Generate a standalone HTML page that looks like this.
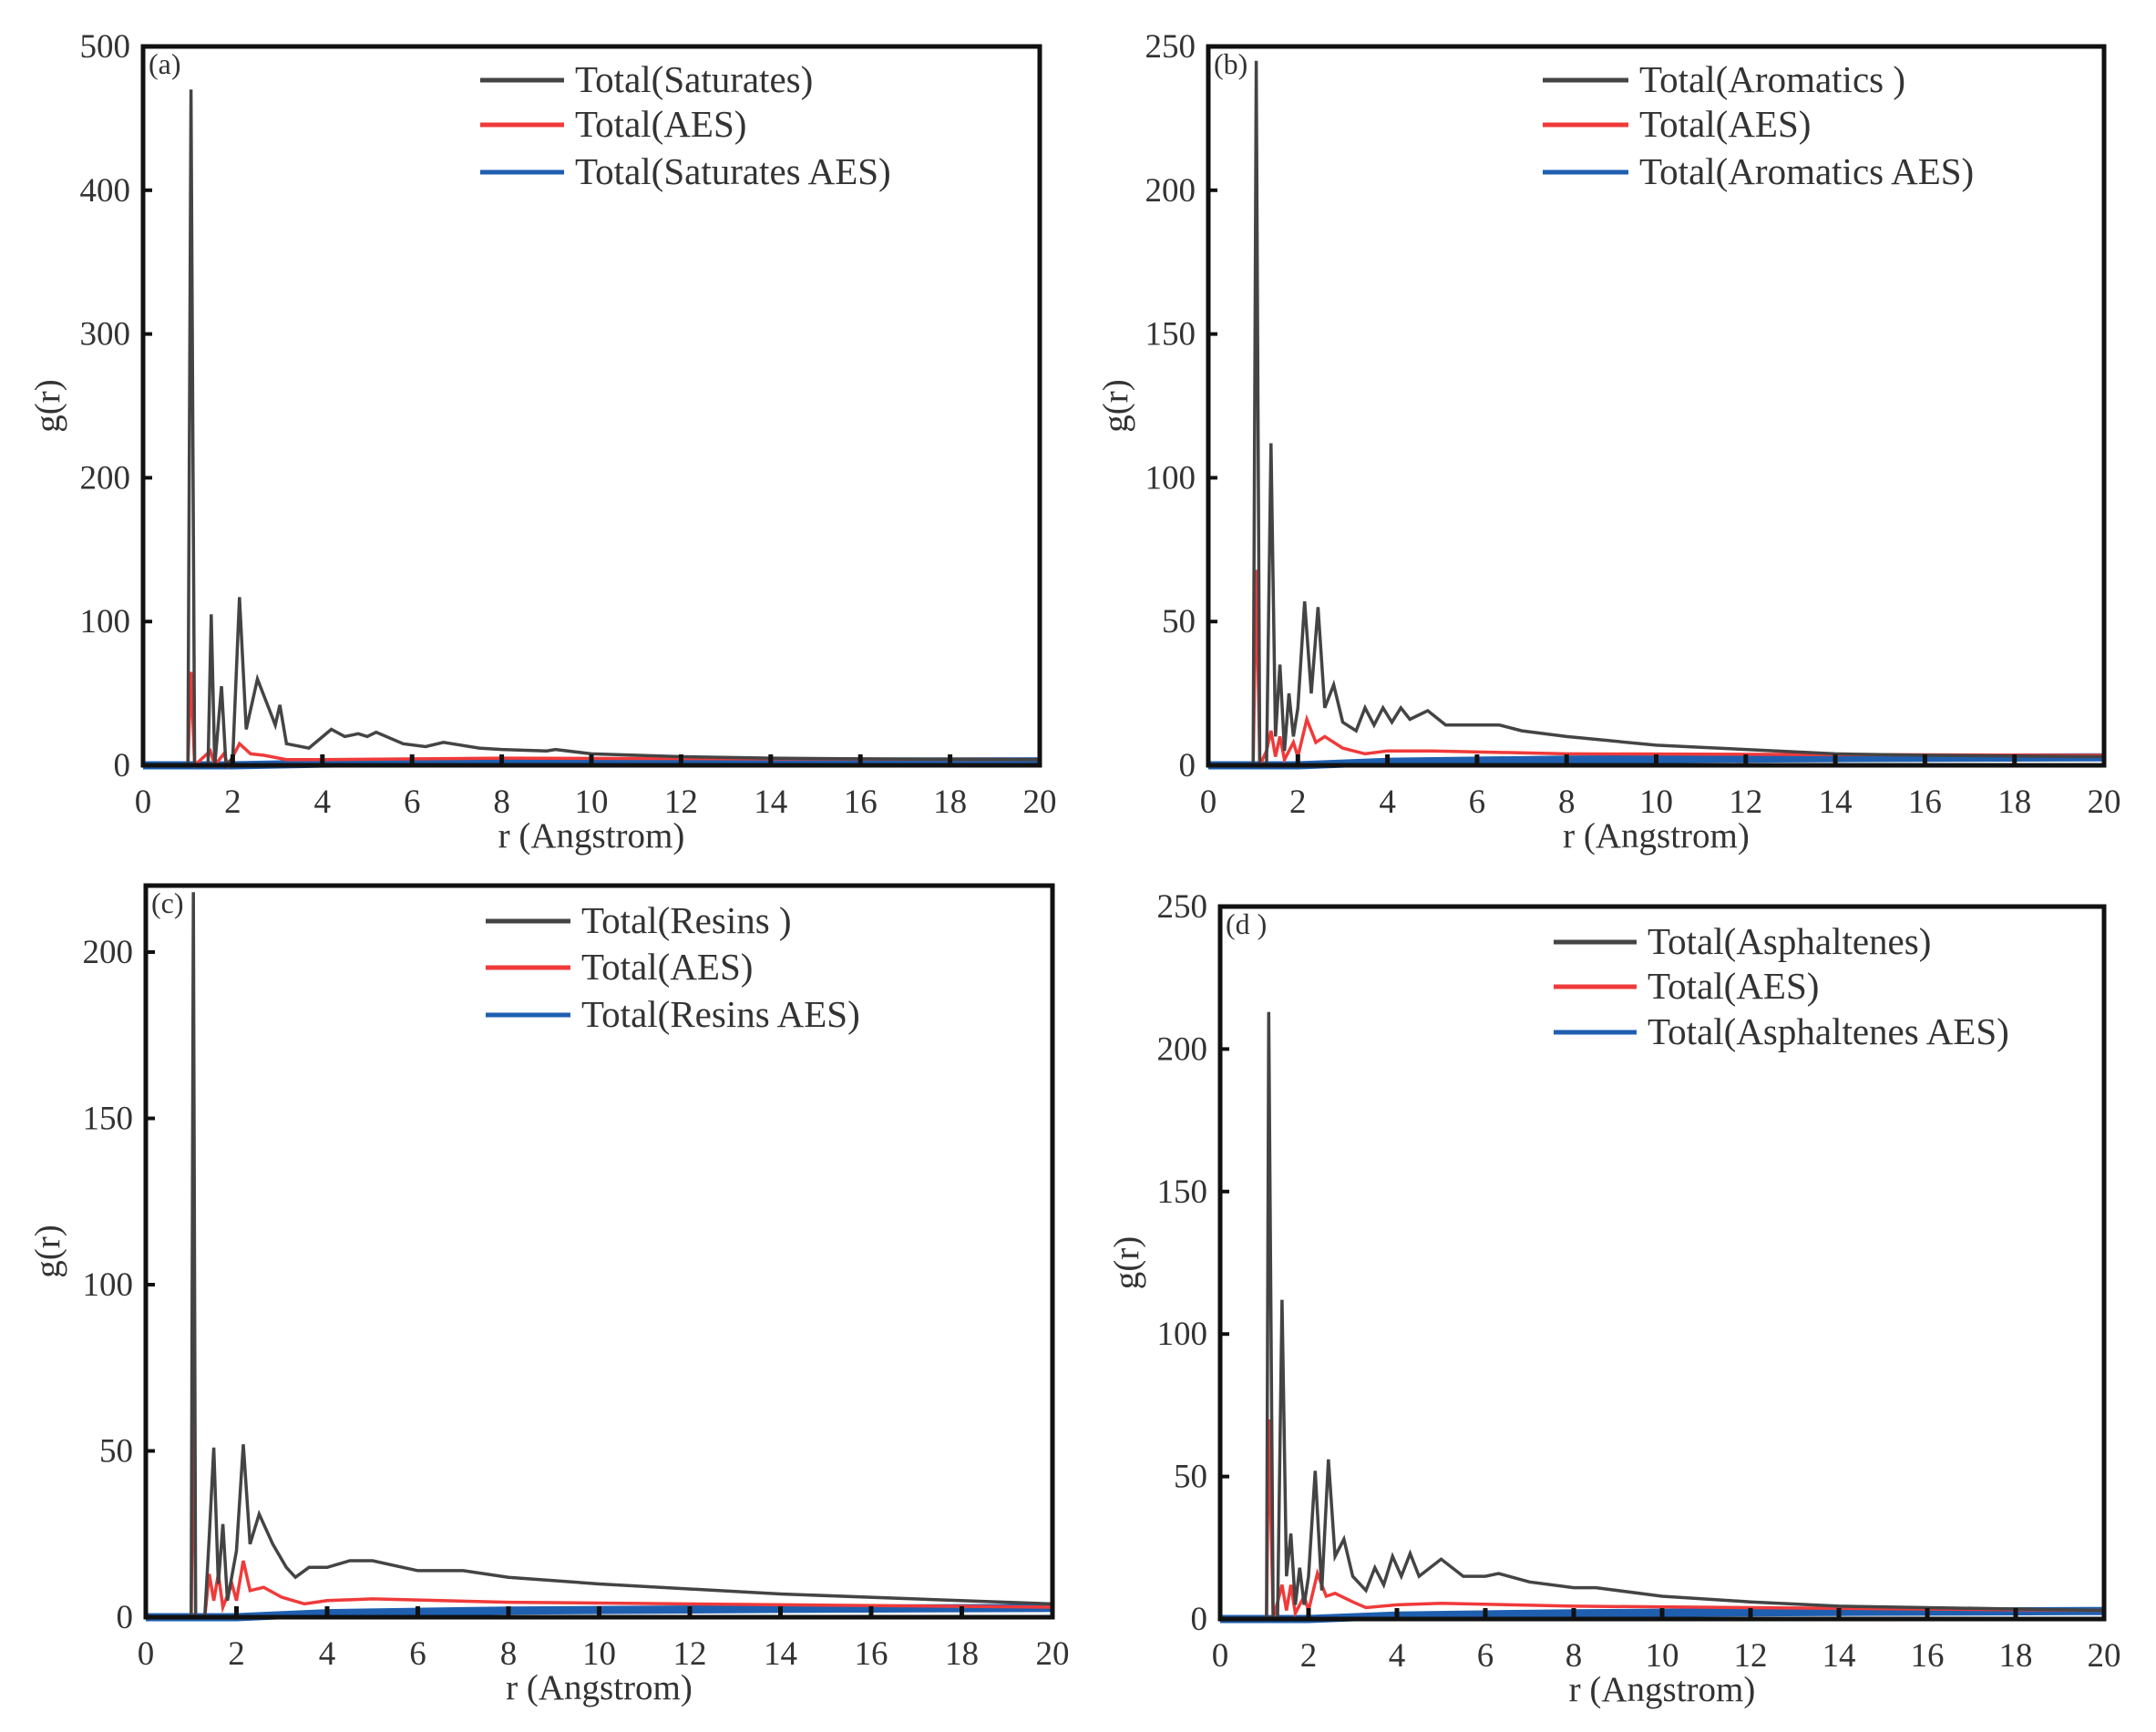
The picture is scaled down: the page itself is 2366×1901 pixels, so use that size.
<!DOCTYPE html>
<html><head><meta charset="utf-8">
<style>
html,body{margin:0;padding:0;background:#fff;}
svg{display:block;}
text{font-family:"Liberation Serif",serif;fill:#333;}
</style></head>
<body>
<svg id="s" width="2366" height="1901" viewBox="0 0 2366 1901" xmlns="http://www.w3.org/2000/svg"></svg>
<script>
var P=[
{x0:157,x1:1141,y0:51,y1:840,ymax:500,yt:[0,100,200,300,400,500],lab:"(a)",ylx:53,leg:[527,619,631,[88,137,189]],
 names:["Total(Saturates)","Total(AES)","Total(Saturates AES)"],
 k:[[0,0],[1.0,0],[1.07,470],[1.15,0],[1.45,0],[1.52,105],[1.6,0],[1.75,55],[1.85,0],[2.0,5],[2.15,117],[2.3,25],[2.55,60],[2.8,40],[2.95,28],[3.05,42],[3.2,15],[3.7,12],[4.2,25],[4.5,20],[4.8,22],[5,20],[5.2,23],[5.8,15],[6.3,13],[6.7,16],[7.5,12],[8,11],[9,10],[9.2,11],[10,8],[12,6],[14,5],[16,4.5],[20,4]],
 r:[[0,0],[1.0,0],[1.07,65],[1.15,0],[1.5,10],[1.6,0],[1.8,8],[1.9,0],[2.15,15],[2.4,8],[2.7,7],[3.2,4],[4,4],[8,5],[20,4]]},
{x0:1326,x1:2309,y0:51,y1:840,ymax:250,yt:[0,50,100,150,200,250],lab:"(b)",ylx:1225,leg:[1693,1787,1799,[88,137,189]],
 names:["Total(Aromatics )","Total(AES)","Total(Aromatics AES)"],
 k:[[0,0],[1.0,0],[1.07,245],[1.15,0],[1.3,0],[1.4,112],[1.5,10],[1.6,35],[1.7,5],[1.8,25],[1.9,10],[2.0,20],[2.15,57],[2.3,25],[2.45,55],[2.6,20],[2.8,28],[3.0,15],[3.3,12],[3.5,20],[3.7,14],[3.9,20],[4.1,15],[4.3,20],[4.5,16],[4.9,19],[5.3,14],[6,14],[6.5,14],[7,12],[8,10],[10,7],[12,5.5],[14,4],[16,3.5],[20,3]],
 r:[[0,0],[1.0,0],[1.07,68],[1.15,0],[1.3,5],[1.4,12],[1.5,3],[1.6,10],[1.7,2],[1.9,8],[2.0,3],[2.2,16],[2.4,8],[2.6,10],[3,6],[3.5,4],[4,5],[5,5],[8,4],[20,3.5]]},
{x0:160,x1:1155,y0:972,y1:1775,ymax:220,yt:[0,50,100,150,200],lab:"(c)",ylx:53,leg:[533,626,638,[1011,1062,1114]],
 names:["Total(Resins )","Total(AES)","Total(Resins  AES)"],
 k:[[0,0],[1.0,0],[1.05,218],[1.1,0],[1.3,0],[1.4,24],[1.5,51],[1.6,10],[1.7,28],[1.8,5],[2.0,20],[2.15,52],[2.3,22],[2.5,31],[2.8,22],[3.1,15],[3.3,12],[3.6,15],[4,15],[4.5,17],[5,17],[6,14],[7,14],[8,12],[10,10],[14,7],[20,4]],
 r:[[0,0],[1.0,0],[1.05,70],[1.1,0],[1.3,0],[1.4,13],[1.5,5],[1.6,13],[1.7,3],[1.9,10],[2.0,5],[2.15,17],[2.3,8],[2.6,9],[3,6],[3.5,4],[4,5],[5,5.5],[8,4.5],[20,3]]},
{x0:1339,x1:2309,y0:995,y1:1777,ymax:250,yt:[0,50,100,150,200,250],lab:"(d )",ylx:1237,leg:[1705,1796,1808,[1034,1083,1133]],
 names:["Total(Asphaltenes)","Total(AES)","Total(Asphaltenes AES)"],
 k:[[0,0],[1.05,0],[1.1,213],[1.2,0],[1.3,0],[1.4,112],[1.5,15],[1.6,30],[1.7,5],[1.8,18],[1.9,5],[2.0,15],[2.15,52],[2.3,10],[2.45,56],[2.6,22],[2.8,28],[3.0,15],[3.3,10],[3.5,18],[3.7,12],[3.9,22],[4.1,15],[4.3,23],[4.5,15],[5.0,21],[5.5,15],[6,15],[6.3,16],[7,13],[8,11],[8.5,11],[10,8],[12,6],[14,4.5],[20,3]],
 r:[[0,0],[1.05,0],[1.1,70],[1.2,0],[1.4,12],[1.5,3],[1.6,12],[1.7,2],[1.9,8],[2.0,3],[2.2,16],[2.4,8],[2.6,9],[3,6],[3.3,4],[4,5],[5,5.5],[8,4.5],[20,3]]}
];
var h="";
P.forEach(function(p){
 var W=p.x1-p.x0,H=p.y1-p.y0;
 function X(v){return (p.x0+v/20*W).toFixed(1);}
 function Y(v){return (p.y1-v/p.ymax*H).toFixed(1);}
 function path(a){return a.map(function(q,i){return (i?"L":"M")+X(q[0])+" "+Y(q[1]);}).join("");}
 var bl=[[0,0],[2,0],[4,1.2],[8,2],[14,2.5],[20,2.8]];
 h+='<path d="'+path(bl)+'" fill="none" stroke="#1f5fb0" stroke-width="9"/>';
 h+='<path d="'+path(p.r)+'" fill="none" stroke="#f03a3a" stroke-width="3.5"/>';
 h+='<path d="'+path(p.k)+'" fill="none" stroke="#444" stroke-width="3.5"/>';
 h+='<rect x="'+p.x0+'" y="'+p.y0+'" width="'+W+'" height="'+H+'" fill="none" stroke="#111" stroke-width="5"/>';
 for(var i=0;i<=20;i+=2){var x=X(i);
  h+='<line x1="'+x+'" x2="'+x+'" y1="'+p.y1+'" y2="'+(p.y1-12)+'" stroke="#111" stroke-width="5"/>';
  h+='<text x="'+x+'" y="'+(p.y1+52)+'" font-size="37" text-anchor="middle">'+i+'</text>';}
 p.yt.forEach(function(v){var y=Y(v);
  h+='<line x1="'+p.x0+'" x2="'+(p.x0+10)+'" y1="'+y+'" y2="'+y+'" stroke="#111" stroke-width="4"/>';
  h+='<text x="'+(p.x0-14)+'" y="'+(+y+12)+'" font-size="37" text-anchor="end">'+v+'</text>';});
 h+='<text x="'+(p.x0+p.x1)/2+'" y="'+(p.y1+90)+'" font-size="39" text-anchor="middle">r (Angstrom)</text>';
 var cy=(p.y0+p.y1)/2;
 h+='<text x="'+p.ylx+'" y="'+cy+'" font-size="39" text-anchor="middle" transform="rotate(-90 '+p.ylx+' '+cy+')" dy="12">g(r)</text>';
 h+='<text x="'+(p.x0+6)+'" y="'+(p.y0+30)+'" font-size="32">'+p.lab+'</text>';
 var cols=["#444","#f03a3a","#1f5fb0"];
 for(var j=0;j<3;j++){var y=p.leg[3][j];
  h+='<line x1="'+p.leg[0]+'" x2="'+p.leg[1]+'" y1="'+y+'" y2="'+y+'" stroke="'+cols[j]+'" stroke-width="5"/>';
  h+='<text x="'+p.leg[2]+'" y="'+(y+13)+'" font-size="41">'+p.names[j]+'</text>';}
});
document.getElementById("s").innerHTML=h;
</script>
</body></html>
